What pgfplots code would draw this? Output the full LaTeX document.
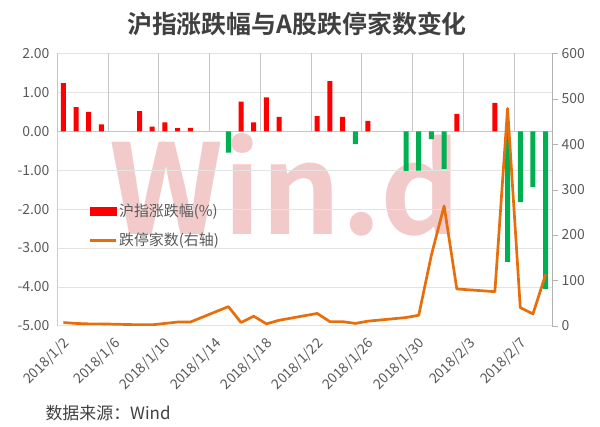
\documentclass[border=0pt]{standalone}
\usepackage{pgfplots}
\pgfplotsset{compat=1.18}
\usepackage{fontspec}
\setmainfont{Noto Sans CJK SC}[BoldFont={Noto Sans CJK SC Bold}]
\definecolor{upred}{RGB}{255,0,0}
\definecolor{downgreen}{RGB}{0,176,80}
\definecolor{lineor}{RGB}{232,110,12}
\definecolor{txt}{RGB}{89,89,89}
\definecolor{wm}{RGB}{243,202,202}

\begin{document}
\begin{tikzpicture}
\path[use as bounding box] (0,0) rectangle (600bp,427bp);
% watermark
\node[text=wm, font=\fontsize{125}{125}\selectfont\bfseries] at (285bp,242bp) {Win.d};
\node[text=black!75, font=\fontsize{25}{28}\selectfont\bfseries] at (297bp,403bp) {沪指涨跌幅与A股跌停家数变化};
\node[anchor=west, text=black!75, font=\fontsize{17}{19}\selectfont] at (42bp,14bp) {数据来源：Wind};

\pgfplotsset{every axis/.append style={
    at={(57bp,101.3bp)}, anchor=south west,
    scale only axis, width=495bp, height=272.2bp,
    xmin=0, xmax=39,
    tick label style={font=\fontsize{14}{16}\selectfont, text=txt},
    /pgf/number format/assume math mode=true}}

% left axis: daily change (%)
\begin{axis}[
    ymin=-5, ymax=2, ytick={-5,-4,...,2},
    yticklabel={\pgfmathprintnumber[fixed,fixed zerofill,precision=2]{\tick}},
    yticklabel style={xshift=-4bp},
    axis y line*=left, axis x line*=bottom,
    x axis line style={draw=none},
    y axis line style={gray!40},
    ymajorgrids, grid style={gray!22},
    xtick={0,4,...,36},
    xticklabels={2018/1/2,2018/1/6,2018/1/10,2018/1/14,2018/1/18,2018/1/22,2018/1/26,2018/1/30,2018/2/3,2018/2/7},
    xticklabel style={rotate=45, anchor=north east, inner sep=1bp, xshift=-3bp, yshift=-10bp},
    xtick style={draw=none}, ytick style={draw=none},
]
\draw[gray!45] (axis cs:0,0) -- (axis cs:39,0);
\pgfplotsinvokeforeach{0,4,8,12,16,20,24,28,32,36}{
  \draw[gray!45] (axis cs:#1,0) -- ++(0,-5bp);
}
\addplot[ybar, bar width=5bp, bar shift=0pt, fill=upred, draw=none] coordinates {
  (0.5,1.24) (1.5,0.62) (2.5,0.50) (3.5,0.18)
  (6.5,0.52) (7.5,0.12) (8.5,0.23) (9.5,0.08) (10.5,0.09)
  (14.5,0.76) (15.5,0.23) (16.5,0.87) (17.5,0.37)
  (20.5,0.39) (21.5,1.29) (22.5,0.37) (24.5,0.27)
  (31.5,0.45) (34.5,0.73)
};
\addplot[ybar, bar width=5bp, bar shift=0pt, fill=downgreen, draw=none] coordinates {
  (13.5,-0.55) (23.5,-0.33) (27.5,-1.02) (28.5,-1.01) (29.5,-0.20)
  (30.5,-0.97) (35.5,-3.36) (36.5,-1.82) (37.5,-1.43) (38.5,-4.05)
};
\end{axis}

% right axis: number of limit-down stocks
\begin{axis}[
    ymin=0, ymax=600, ytick={0,100,...,600},
    axis y line*=right, hide x axis,
    y axis line style={gray!60}, ytick style={gray!60},
    tick align=outside, major tick length=6bp,
    legend style={at={(0.064,0.46)}, anchor=north west, draw=none, fill=none,
      font=\fontsize{15}{17}\selectfont, text=txt, row sep=12bp,
      inner xsep=0pt, nodes={inner sep=1.5bp}},
    legend cell align=left,
]
\addlegendimage{legend image code/.code={\fill[upred] (0bp,-4bp) rectangle (26bp,4bp);}}
\addlegendentry{沪指涨跌幅(\%)}
\addplot[lineor, line width=2.7bp, line join=round,
  legend image code/.code={\draw[lineor, line width=2.7bp] (0bp,0bp) -- (26bp,0bp);}] coordinates {
  (0.5,7) (1.5,5) (2.5,4) (3.5,4)
  (6.5,2) (7.5,2) (8.5,5) (9.5,8) (10.5,8)
  (13.5,42) (14.5,7) (15.5,21) (16.5,4) (17.5,12)
  (20.5,27) (21.5,9) (22.5,9) (23.5,5) (24.5,10)
  (27.5,18) (28.5,23) (29.5,156) (30.5,264) (31.5,81)
  (34.5,75) (35.5,479) (36.5,40) (37.5,26) (38.5,113)
};
\addlegendentry{跌停家数(右轴)}
\end{axis}
\end{tikzpicture}
\end{document}
